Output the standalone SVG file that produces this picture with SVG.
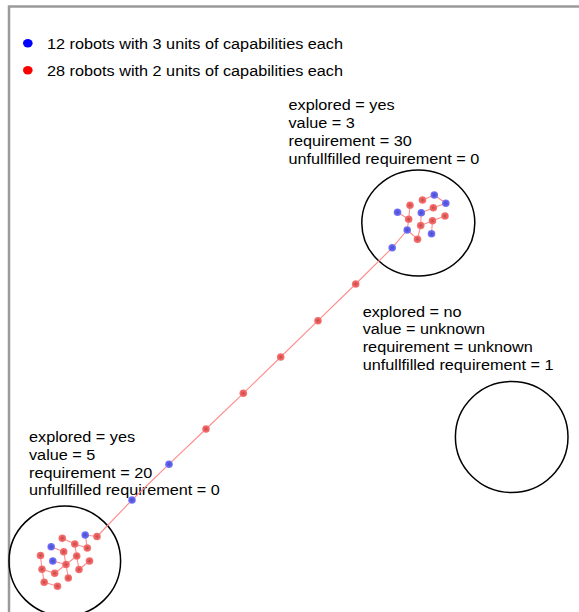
<svg xmlns="http://www.w3.org/2000/svg" width="579" height="612" viewBox="0 0 579 612">
<style>
.t{font-family:"Liberation Sans",Arial,Helvetica,sans-serif;font-size:14px;fill:#000}
.ring{fill:none;stroke:#000;stroke-width:1.5}
.e{stroke:#ff8c8c;stroke-width:1.1;fill:none}
.r{fill:url(#gr)}
.b{fill:url(#gb)}
.frame{stroke:#9a9a9a;stroke-width:2.5;fill:none}
</style>
<defs>
<radialGradient id="gr"><stop offset="0" stop-color="#a85050"/><stop offset="0.45" stop-color="#ee5858"/><stop offset="1" stop-color="#f27878"/></radialGradient>
<radialGradient id="gb"><stop offset="0" stop-color="#5050a8"/><stop offset="0.45" stop-color="#5858ee"/><stop offset="1" stop-color="#7878f2"/></radialGradient>
</defs>
<rect width="579" height="612" fill="#fff"/>
<path class="frame" d="M9,612 V6.5 H579"/>

<g id="legend">
<ellipse cx="27.8" cy="43.3" rx="4.8" ry="4.2" fill="#0000ff"/>
<text class="t" transform="matrix(1.16,0,0,1,47,0)" y="48.8">12 robots with 3 units of capabilities each</text>
<ellipse cx="27.8" cy="70.3" rx="4.8" ry="4.2" fill="#ff0000"/>
<text class="t" transform="matrix(1.16,0,0,1,47,0)" y="75.8">28 robots with 2 units of capabilities each</text>
</g>

<g id="region-top">
<ellipse class="ring" cx="418.3" cy="223" rx="56.5" ry="53"/>
<g class="t" transform="matrix(1.16,0,0,1,288.5,0)">
<text y="110.3">explored = yes</text>
<text y="128.1">value = 3</text>
<text y="145.9">requirement = 30</text>
<text y="163.7">unfullfilled requirement = 0</text>
</g>
</g>

<g id="region-right">
<ellipse class="ring" cx="511.7" cy="437" rx="56.3" ry="55.5"/>
<g class="t" transform="matrix(1.16,0,0,1,362.7,0)">
<text y="316.7">explored = no</text>
<text y="334.4">value = unknown</text>
<text y="352.1">requirement = unknown</text>
<text y="369.8">unfullfilled requirement = 1</text>
</g>
</g>

<g id="region-bottom">
<ellipse class="ring" cx="64.8" cy="561" rx="55.8" ry="55"/>
<g class="t" transform="matrix(1.16,0,0,1,29,0)">
<text y="441.8">explored = yes</text>
<text y="459.7">value = 5</text>
<text y="477.6">requirement = 20</text>
<text y="495.5">unfullfilled requirement = 0</text>
</g>
</g>

<g id="connectors">
<path class="e" d="M397.5,212.2L408.7,219.3M410,205.3L408.7,219.3M408.7,219.3L407.2,230M407.2,230L417.5,239.2M417.5,239.2L420.7,225.5M420.7,225.5L421.3,212.8M421.3,212.8L433.3,207.8M433.3,207.8L445.8,203.3M445.8,203.3L434.3,195M434.3,195L422.5,200M420.7,225.5L432.5,220.7M432.5,220.7L445,216M432.5,220.7L431.5,233.8M407.2,230L392.2,247.8"/>
<path class="e" d="M392.2,247.8L355.7,284L318,320.7L280.7,357L243.3,393.3L206,429L169,464.2L132,500L97,536.5"/>
<path class="e" d="M97,536.5L85.2,535M85.2,535L87.3,548M87.3,548L74.8,544M74.8,544L62.3,538.3M74.8,544L76.7,556M51.2,546.8L63.7,551.8M63.7,551.8L66,564.5M52.8,561L66,564.5M66,564.5L76.7,556M66,564.5L68.3,578M76.7,556L79,569.5M79,569.5L89.5,561M40.5,555.5L42,569.2M42,569.2L54.7,573.3M54.7,573.3L66,564.5M42,569.2L44.2,582.2M44.2,582.2L57.5,586.2"/>
</g>

<g id="robots">
<circle class="b" cx="397.5" cy="212.2" r="3.8"/>
<circle class="r" cx="410" cy="205.3" r="3.8"/>
<circle class="r" cx="408.7" cy="219.3" r="3.8"/>
<circle class="b" cx="407.2" cy="230" r="3.8"/>
<circle class="r" cx="417.5" cy="239.2" r="3.8"/>
<circle class="r" cx="422.5" cy="200" r="3.8"/>
<circle class="b" cx="434.3" cy="195" r="3.8"/>
<circle class="b" cx="445.8" cy="203.3" r="3.8"/>
<circle class="r" cx="433.3" cy="207.8" r="3.8"/>
<circle class="b" cx="421.3" cy="212.8" r="3.8"/>
<circle class="r" cx="420.7" cy="225.5" r="3.8"/>
<circle class="r" cx="432.5" cy="220.7" r="3.8"/>
<circle class="r" cx="445" cy="216" r="3.8"/>
<circle class="b" cx="431.5" cy="233.8" r="3.8"/>
<circle class="b" cx="392.2" cy="247.8" r="3.8"/>

<circle class="r" cx="355.7" cy="284" r="3.8"/>
<circle class="r" cx="318" cy="320.7" r="3.8"/>
<circle class="r" cx="280.7" cy="357" r="3.8"/>
<circle class="r" cx="243.3" cy="393.3" r="3.8"/>
<circle class="r" cx="206" cy="429" r="3.8"/>
<circle class="b" cx="169" cy="464.2" r="3.8"/>
<circle class="b" cx="132" cy="500" r="3.8"/>

<circle class="r" cx="97" cy="536.5" r="3.8"/>
<circle class="b" cx="85.2" cy="535" r="3.8"/>
<circle class="r" cx="62.3" cy="538.3" r="3.8"/>
<circle class="r" cx="74.8" cy="544" r="3.8"/>
<circle class="r" cx="87.3" cy="548" r="3.8"/>
<circle class="b" cx="51.2" cy="546.8" r="3.8"/>
<circle class="r" cx="63.7" cy="551.8" r="3.8"/>
<circle class="r" cx="76.7" cy="556" r="3.8"/>
<circle class="r" cx="40.5" cy="555.5" r="3.8"/>
<circle class="b" cx="52.8" cy="561" r="3.8"/>
<circle class="r" cx="66" cy="564.5" r="3.8"/>
<circle class="r" cx="89.5" cy="561" r="3.8"/>
<circle class="r" cx="79" cy="569.5" r="3.8"/>
<circle class="r" cx="42" cy="569.2" r="3.8"/>
<circle class="r" cx="54.7" cy="573.3" r="3.8"/>
<circle class="r" cx="68.3" cy="578" r="3.8"/>
<circle class="r" cx="44.2" cy="582.2" r="3.8"/>
<circle class="r" cx="57.5" cy="586.2" r="3.8"/>
</g>
</svg>
